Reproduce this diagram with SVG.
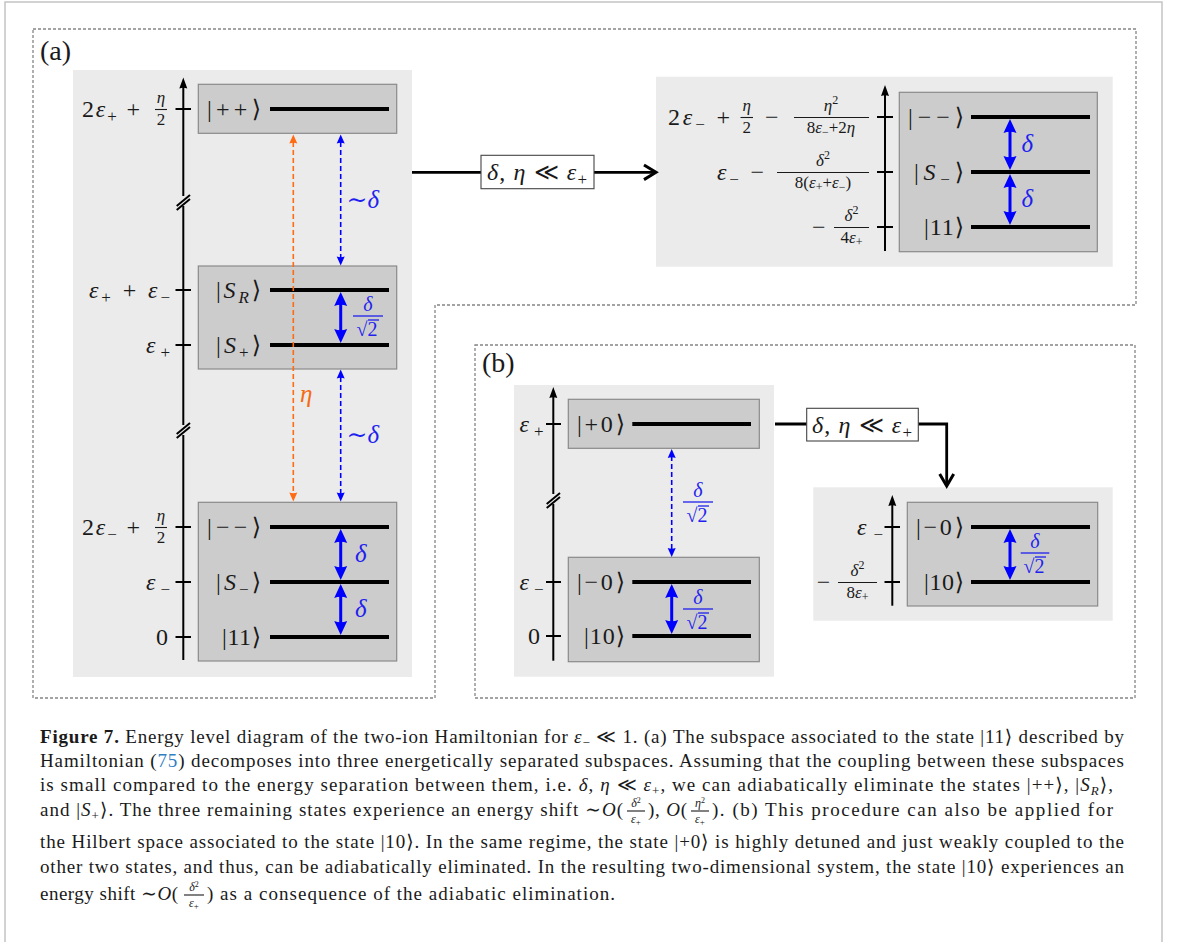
<svg xmlns="http://www.w3.org/2000/svg" xmlns:xlink="http://www.w3.org/1999/xlink" width="1179" height="942" viewBox="0 0 1179 942">
<style>
.m{font-family:"Liberation Serif","DejaVu Serif",serif;font-size:24px;fill:#1a1a1a}
.i{font-style:italic}
.sb{font-size:17px}
.f{font-size:17px}
.ss{font-size:12px}
.bl{fill:#1f1fef}
.or{fill:#f56a10}
.fb{stroke:#1a1a1a;stroke-width:1.1}
.fbb{stroke:#1f1fef;stroke-width:1.3}
.bg{fill:#ebebeb}
.box{fill:#cccccc;stroke:#8a8a8a;stroke-width:1.2}
.lvl{stroke:#000;stroke-width:4}
.ax{stroke:#000;stroke-width:2;fill:none}
.tk{stroke:#000;stroke-width:2}
.dash{fill:none;stroke:#858585;stroke-width:1.3;stroke-dasharray:3 2}
.sarr{stroke:#0000ff;stroke-width:3}
.darr{stroke:#0000ff;stroke-width:1.6;stroke-dasharray:5 3}
.oarr{stroke:#ff6a13;stroke-width:1.6;stroke-dasharray:5 3}
.con{fill:none;stroke:#000;stroke-width:2.8}
.chev{fill:none;stroke:#000;stroke-width:3}
.lbox{fill:#fff;stroke:#444;stroke-width:1.1}
.cap{font-family:"Liberation Serif","DejaVu Serif",serif;font-size:19px;fill:#1a1a1a}
.cs{font-size:13px}
.cf{font-size:12px}
</style>
<defs>
<path id="ah" d="M0,0 L4,11 Q0,9.5 -4,11 Z" fill="#000"/>
<path id="bh" d="M0,0 L6.5,14 Q0,11.5 -6.5,14 Z" fill="#0000ff"/>
<path id="dh" d="M0,0 L4,9 Q0,7.5 -4,9 Z" fill="#0000ff"/>
<path id="oh" d="M0,0 L4,9 Q0,7.5 -4,9 Z" fill="#ff6a13"/>
</defs>

<!-- outer frame -->
<path d="M5,942 V2 H1162 V942" fill="none" stroke="#c4c4c4" stroke-width="1.5"/>

<!-- panel borders -->
<path class="dash" d="M33,29 H1136 V305 H435 V698 H33 Z"/>
<rect class="dash" x="475" y="345" width="660" height="353"/>
<text class="m" x="40" y="60" style="font-size:28px">(a)</text>
<text class="m" x="482" y="372" style="font-size:28px">(b)</text>

<!-- Panel (a) left -->
<g id="a-left">
<rect class="bg" x="73" y="70" width="339" height="607"/>
<line class="ax" x1="183.3" y1="86" x2="183.3" y2="196"/>
<line class="ax" x1="183.3" y1="206" x2="183.3" y2="425"/>
<line class="ax" x1="183.3" y1="435" x2="183.3" y2="660"/>
<use xlink:href="#ah" x="183.3" y="77.5"/>
<line class="tk" x1="176.7" y1="206" x2="190" y2="195"/>
<line class="tk" x1="176.7" y1="210" x2="190" y2="199"/>
<line class="tk" x1="176.7" y1="434" x2="190" y2="423"/>
<line class="tk" x1="176.7" y1="438" x2="190" y2="427"/>
<line class="tk" x1="175.5" y1="109" x2="191" y2="109"/>
<line class="tk" x1="175.5" y1="290" x2="191" y2="290"/>
<line class="tk" x1="175.5" y1="345" x2="191" y2="345"/>
<line class="tk" x1="175.5" y1="527" x2="191" y2="527"/>
<line class="tk" x1="175.5" y1="582" x2="191" y2="582"/>
<line class="tk" x1="175.5" y1="637" x2="191" y2="637"/>
<text class="m" x="82" y="117" textLength="58" lengthAdjust="spacing">2<tspan class="i">ε</tspan><tspan class="sb" dy="5">+</tspan><tspan dy="-5"> +</tspan></text>
<text class="m f i" x="161" y="103" text-anchor="middle">η</text>
<line class="fb" x1="155" y1="109.5" x2="167" y2="109.5"/>
<text class="m f" x="161" y="125" text-anchor="middle">2</text>
<text class="m" x="89" y="298" textLength="81" lengthAdjust="spacing"><tspan class="i">ε</tspan><tspan class="sb" dy="5">+</tspan><tspan dy="-5"> + </tspan><tspan class="i">ε</tspan><tspan class="sb" dy="5">−</tspan></text>
<text class="m" x="146" y="353" textLength="24" lengthAdjust="spacing"><tspan class="i">ε</tspan><tspan class="sb" dy="5">+</tspan></text>
<text class="m" x="82" y="535" textLength="58" lengthAdjust="spacing">2<tspan class="i">ε</tspan><tspan class="sb" dy="5">−</tspan><tspan dy="-5"> +</tspan></text>
<text class="m f i" x="161" y="521" text-anchor="middle">η</text>
<line class="fb" x1="155" y1="527.5" x2="167" y2="527.5"/>
<text class="m f" x="161" y="543" text-anchor="middle">2</text>
<text class="m" x="146" y="590" textLength="24" lengthAdjust="spacing"><tspan class="i">ε</tspan><tspan class="sb" dy="5">−</tspan></text>
<text class="m" x="156" y="645">0</text>
</g>

<g id="box-pp">
<rect class="box" x="198.3" y="84.3" width="198.4" height="49"/>
<line class="lvl" x1="270" y1="109" x2="389" y2="109"/>
<text class="m" x="261" y="117" text-anchor="end" textLength="54" lengthAdjust="spacing">|++⟩</text>
</g>
<g id="box-sr">
<rect class="box" x="198.3" y="266" width="198.4" height="103"/>
<line class="lvl" x1="270" y1="290" x2="389" y2="290"/>
<line class="lvl" x1="270" y1="345" x2="389" y2="345"/>
<text class="m" x="261" y="298" text-anchor="end" textLength="45" lengthAdjust="spacing">|<tspan class="i">S</tspan><tspan class="sb i" dy="5">R</tspan><tspan dy="-5">⟩</tspan></text>
<text class="m" x="261" y="353" text-anchor="end" textLength="45" lengthAdjust="spacing">|<tspan class="i">S</tspan><tspan class="sb" dy="5">+</tspan><tspan dy="-5">⟩</tspan></text>
</g>
<g id="box-mm">
<rect class="box" x="198.3" y="502.3" width="198.4" height="158.7"/>
<line class="lvl" x1="270" y1="527" x2="389" y2="527"/>
<line class="lvl" x1="270" y1="582" x2="389" y2="582"/>
<line class="lvl" x1="270" y1="637" x2="389" y2="637"/>
<text class="m" x="261" y="535" text-anchor="end" textLength="54" lengthAdjust="spacing">|−−⟩</text>
<text class="m" x="261" y="590" text-anchor="end" textLength="45" lengthAdjust="spacing">|<tspan class="i">S</tspan><tspan class="sb" dy="5">−</tspan><tspan dy="-5">⟩</tspan></text>
<text class="m" x="261" y="645" text-anchor="end" textLength="39" lengthAdjust="spacing">|11⟩</text>
</g>

<!-- Panel (a) right -->
<g id="a-right">
<rect class="bg" x="656" y="76.7" width="456.7" height="190"/>
<line class="ax" x1="885" y1="93" x2="885" y2="251"/>
<use xlink:href="#ah" x="885" y="85"/>
<line class="tk" x1="877" y1="117" x2="893" y2="117"/>
<line class="tk" x1="877" y1="172" x2="893" y2="172"/>
<line class="tk" x1="877" y1="227" x2="893" y2="227"/>
<text class="m" x="668" y="125" textLength="62" lengthAdjust="spacing">2<tspan class="i">ε</tspan><tspan class="sb" dy="5">−</tspan><tspan dy="-5"> +</tspan></text>
<text class="m f i" x="746.7" y="111" text-anchor="middle">η</text>
<line class="fb" x1="740.5" y1="117.5" x2="753" y2="117.5"/>
<text class="m f" x="746.7" y="133" text-anchor="middle">2</text>
<text class="m" x="765" y="125">−</text>
<text class="m f" x="831" y="111" text-anchor="middle"><tspan class="i">η</tspan><tspan class="ss" dy="-7">2</tspan></text>
<line class="fb" x1="794" y1="117.5" x2="869" y2="117.5"/>
<text class="m f" x="831" y="133" text-anchor="middle">8<tspan class="i">ε</tspan><tspan class="ss" dy="3">−</tspan><tspan dy="-3">+2</tspan><tspan class="i">η</tspan></text>
<text class="m" x="717" y="180" textLength="47" lengthAdjust="spacing"><tspan class="i">ε</tspan><tspan class="sb" dy="5">−</tspan><tspan dy="-5"> −</tspan></text>
<text class="m f" x="823" y="166" text-anchor="middle"><tspan class="i">δ</tspan><tspan class="ss" dy="-7">2</tspan></text>
<line class="fb" x1="777" y1="172.5" x2="869" y2="172.5"/>
<text class="m f" x="823" y="188" text-anchor="middle">8(<tspan class="i">ε</tspan><tspan class="ss" dy="3">+</tspan><tspan dy="-3">+</tspan><tspan class="i">ε</tspan><tspan class="ss" dy="3">−</tspan><tspan dy="-3">)</tspan></text>
<text class="m" x="812" y="235">−</text>
<text class="m f" x="851.5" y="221" text-anchor="middle"><tspan class="i">δ</tspan><tspan class="ss" dy="-7">2</tspan></text>
<line class="fb" x1="834" y1="227.5" x2="869" y2="227.5"/>
<text class="m f" x="851.5" y="243" text-anchor="middle">4<tspan class="i">ε</tspan><tspan class="ss" dy="3">+</tspan></text>
</g>
<g id="box-right-a">
<rect class="box" x="899.3" y="92.3" width="198" height="159.4"/>
<line class="lvl" x1="971" y1="117" x2="1090" y2="117"/>
<line class="lvl" x1="971" y1="172" x2="1090" y2="172"/>
<line class="lvl" x1="971" y1="227" x2="1090" y2="227"/>
<text class="m" x="964" y="125" text-anchor="end" textLength="56" lengthAdjust="spacing">|−−⟩</text>
<text class="m" x="964" y="180" text-anchor="end" textLength="50" lengthAdjust="spacing">|<tspan class="i">S</tspan><tspan class="sb" dy="5">−</tspan><tspan dy="-5">⟩</tspan></text>
<text class="m" x="964" y="235" text-anchor="end" textLength="40" lengthAdjust="spacing">|11⟩</text>
</g>

<!-- Panel (b) left -->
<g id="b-left">
<rect class="bg" x="514" y="385" width="260" height="291.7"/>
<line class="ax" x1="553.3" y1="395" x2="553.3" y2="494"/>
<line class="ax" x1="553.3" y1="504" x2="553.3" y2="660.7"/>
<use xlink:href="#ah" x="553.3" y="387"/>
<line class="tk" x1="546.7" y1="504" x2="560" y2="493"/>
<line class="tk" x1="546.7" y1="508" x2="560" y2="497"/>
<line class="tk" x1="546" y1="424" x2="561" y2="424"/>
<line class="tk" x1="546" y1="582" x2="561" y2="582"/>
<line class="tk" x1="546" y1="636" x2="561" y2="636"/>
<text class="m" x="519.5" y="432" textLength="24" lengthAdjust="spacing"><tspan class="i">ε</tspan><tspan class="sb" dy="5">+</tspan></text>
<text class="m" x="519.5" y="590" textLength="24" lengthAdjust="spacing"><tspan class="i">ε</tspan><tspan class="sb" dy="5">−</tspan></text>
<text class="m" x="528" y="644">0</text>
</g>
<g id="box-p0">
<rect class="box" x="568.3" y="399.3" width="191" height="49"/>
<line class="lvl" x1="632.3" y1="424" x2="751" y2="424"/>
<text class="m" x="625" y="432" text-anchor="end" textLength="48" lengthAdjust="spacing">|+0⟩</text>
</g>
<g id="box-m0">
<rect class="box" x="568.3" y="557.3" width="191" height="104.4"/>
<line class="lvl" x1="632.3" y1="582" x2="751" y2="582"/>
<line class="lvl" x1="632.3" y1="636" x2="751" y2="636"/>
<text class="m" x="625" y="590" text-anchor="end" textLength="48" lengthAdjust="spacing">|−0⟩</text>
<text class="m" x="625" y="644" text-anchor="end" textLength="41" lengthAdjust="spacing">|10⟩</text>
</g>

<!-- Panel (b) right -->
<g id="b-right">
<rect class="bg" x="813.3" y="487.3" width="299.4" height="133.4"/>
<line class="ax" x1="892.3" y1="503" x2="892.3" y2="605.7"/>
<use xlink:href="#ah" x="892.3" y="495"/>
<line class="tk" x1="884.5" y1="527" x2="900" y2="527"/>
<line class="tk" x1="884.5" y1="582" x2="900" y2="582"/>
<text class="m" x="857" y="535" textLength="26" lengthAdjust="spacing"><tspan class="i">ε</tspan><tspan class="sb" dy="5">−</tspan></text>
<text class="m" x="816.7" y="590">−</text>
<text class="m f" x="857.5" y="576" text-anchor="middle"><tspan class="i">δ</tspan><tspan class="ss" dy="-7">2</tspan></text>
<line class="fb" x1="838" y1="582.5" x2="877" y2="582.5"/>
<text class="m f" x="857.5" y="598" text-anchor="middle">8<tspan class="i">ε</tspan><tspan class="ss" dy="3">+</tspan></text>
</g>
<g id="box-right-b">
<rect class="box" x="907.3" y="502.3" width="190.4" height="103.7"/>
<line class="lvl" x1="971" y1="527" x2="1090" y2="527"/>
<line class="lvl" x1="971" y1="582" x2="1090" y2="582"/>
<text class="m" x="964" y="535" text-anchor="end" textLength="48" lengthAdjust="spacing">|−0⟩</text>
<text class="m" x="964" y="590" text-anchor="end" textLength="40" lengthAdjust="spacing">|10⟩</text>
</g>

<!-- connectors -->
<g id="connectors">
<line class="con" x1="412" y1="172.3" x2="655" y2="172.3"/>
<polyline class="chev" points="644,165 656,172.3 644,179.6"/>
<g id="label-a">
<rect class="lbox" x="481" y="155.3" width="113" height="33.4"/>
<text class="m" x="487" y="180" textLength="100" lengthAdjust="spacing"><tspan class="i">δ</tspan>, <tspan class="i">η</tspan> ≪ <tspan class="i">ε</tspan><tspan class="sb" dy="5">+</tspan></text>
</g>
<path class="con" d="M775,424 H946.7 V484"/>
<polyline class="chev" points="939.7,474 946.7,486 953.7,474"/>
<g id="label-b">
<rect class="lbox" x="806.7" y="408.3" width="111.6" height="32.7"/>
<text class="m" x="812" y="432.5" textLength="100" lengthAdjust="spacing"><tspan class="i">δ</tspan>, <tspan class="i">η</tspan> ≪ <tspan class="i">ε</tspan><tspan class="sb" dy="5">+</tspan></text>
</g>

<line class="oarr" x1="293.3" y1="142" x2="293.3" y2="494"/>
<use xlink:href="#oh" x="293.3" y="134.5"/>
<use xlink:href="#oh" transform="translate(293.3,501.5) rotate(180)"/>
<text class="m or i" x="300" y="402" style="font-size:25px">η</text>

<line class="darr" x1="340.7" y1="142" x2="340.7" y2="258"/>
<use xlink:href="#dh" x="340.7" y="134.5"/>
<use xlink:href="#dh" transform="translate(340.7,265.5) rotate(180)"/>
<text class="m bl" x="346.5" y="208" style="font-size:25px">∼<tspan class="i">δ</tspan></text>
<line class="darr" x1="340.7" y1="377" x2="340.7" y2="494"/>
<use xlink:href="#dh" x="340.7" y="369.5"/>
<use xlink:href="#dh" transform="translate(340.7,501.5) rotate(180)"/>
<text class="m bl" x="346.5" y="443" style="font-size:25px">∼<tspan class="i">δ</tspan></text>
<line class="darr" x1="671.7" y1="456" x2="671.7" y2="550"/>
<use xlink:href="#dh" x="671.7" y="449"/>
<use xlink:href="#dh" transform="translate(671.7,557) rotate(180)"/>

<line class="sarr" x1="340.7" y1="303" x2="340.7" y2="333"/>
<use xlink:href="#bh" x="340.7" y="292"/>
<use xlink:href="#bh" transform="translate(340.7,343) rotate(180)"/>
<line class="sarr" x1="340.7" y1="540" x2="340.7" y2="569"/>
<use xlink:href="#bh" x="340.7" y="529"/>
<use xlink:href="#bh" transform="translate(340.7,580) rotate(180)"/>
<line class="sarr" x1="340.7" y1="595" x2="340.7" y2="624"/>
<use xlink:href="#bh" x="340.7" y="584"/>
<use xlink:href="#bh" transform="translate(340.7,635) rotate(180)"/>
<line class="sarr" x1="1010" y1="130" x2="1010" y2="159"/>
<use xlink:href="#bh" x="1010" y="119"/>
<use xlink:href="#bh" transform="translate(1010,170) rotate(180)"/>
<line class="sarr" x1="1010" y1="185" x2="1010" y2="214"/>
<use xlink:href="#bh" x="1010" y="174"/>
<use xlink:href="#bh" transform="translate(1010,225) rotate(180)"/>
<line class="sarr" x1="671.7" y1="595" x2="671.7" y2="623"/>
<use xlink:href="#bh" x="671.7" y="584"/>
<use xlink:href="#bh" transform="translate(671.7,634) rotate(180)"/>
<line class="sarr" x1="1010" y1="540" x2="1010" y2="569"/>
<use xlink:href="#bh" x="1010" y="529"/>
<use xlink:href="#bh" transform="translate(1010,580) rotate(180)"/>

<text class="m bl i" x="355" y="562" style="font-size:25px">δ</text>
<text class="m bl i" x="355" y="617" style="font-size:25px">δ</text>
<text class="m bl i" x="1021.5" y="152" style="font-size:25px">δ</text>
<text class="m bl i" x="1021.5" y="207" style="font-size:25px">δ</text>

<text class="m bl i" x="368" y="311" text-anchor="middle" style="font-size:20px">δ</text>
<line class="fbb" x1="353" y1="316" x2="383" y2="316"/>
<text class="m bl" x="367" y="336" text-anchor="middle" style="font-size:20px">√2</text>
<line class="fbb" x1="368" y1="320" x2="379" y2="320"/>

<text class="m bl i" x="698" y="497" text-anchor="middle" style="font-size:20px">δ</text>
<line class="fbb" x1="683" y1="502" x2="713" y2="502"/>
<text class="m bl" x="697" y="522" text-anchor="middle" style="font-size:20px">√2</text>
<line class="fbb" x1="698" y1="506" x2="709" y2="506"/>

<text class="m bl i" x="698" y="604" text-anchor="middle" style="font-size:20px">δ</text>
<line class="fbb" x1="683" y1="609" x2="713" y2="609"/>
<text class="m bl" x="697" y="629" text-anchor="middle" style="font-size:20px">√2</text>
<line class="fbb" x1="698" y1="613" x2="709" y2="613"/>

<text class="m bl i" x="1035" y="548" text-anchor="middle" style="font-size:20px">δ</text>
<line class="fbb" x1="1020.7" y1="553" x2="1049.3" y2="553"/>
<text class="m bl" x="1034" y="573" text-anchor="middle" style="font-size:20px">√2</text>
<line class="fbb" x1="1035" y1="557" x2="1046" y2="557"/>
</g>

<g id="caption">
<text class="cap" x="40" y="743" textLength="1084" lengthAdjust="spacing"><tspan font-weight="bold">Figure 7.</tspan> Energy level diagram of the two-ion Hamiltonian for <tspan class="i">ε</tspan><tspan class="cs" dy="4">−</tspan><tspan dy="-4"> ≪ 1. (a) The subspace associated to the state |11⟩ described by</tspan></text>
<text class="cap" x="40" y="767" textLength="1084" lengthAdjust="spacing">Hamiltonian (<tspan fill="#2f7fc1">75</tspan>) decomposes into three energetically separated subspaces. Assuming that the coupling between these subspaces</text>
<text class="cap" x="40" y="791" textLength="1073" lengthAdjust="spacing">is small compared to the energy separation between them, i.e. <tspan class="i">δ</tspan>, <tspan class="i">η</tspan> ≪ <tspan class="i">ε</tspan><tspan class="cs" dy="4">+</tspan><tspan dy="-4">, we can adiabatically eliminate the states |++⟩, |</tspan><tspan class="i">S</tspan><tspan class="cs i" dy="4">R</tspan><tspan dy="-4">⟩,</tspan></text>
<text class="cap" x="40" y="816" textLength="583" lengthAdjust="spacing">and |<tspan class="i">S</tspan><tspan class="cs" dy="4">+</tspan><tspan dy="-4">⟩. The three remaining states experience an energy shift ∼</tspan><tspan class="i">O</tspan>(</text>
<text class="cap cf" x="636" y="807" text-anchor="middle"><tspan class="i">δ</tspan><tspan dy="-4" style="font-size:8px">2</tspan></text>
<line class="fb" x1="627" y1="811" x2="645" y2="811"/>
<text class="cap cf" x="636" y="823" text-anchor="middle"><tspan class="i">ε</tspan><tspan dy="2" style="font-size:9px">+</tspan></text>
<text class="cap" x="648" y="816" textLength="39" lengthAdjust="spacing">), <tspan class="i">O</tspan>(</text>
<text class="cap cf" x="700" y="807" text-anchor="middle"><tspan class="i">η</tspan><tspan dy="-4" style="font-size:8px">2</tspan></text>
<line class="fb" x1="691" y1="811" x2="709" y2="811"/>
<text class="cap cf" x="700" y="823" text-anchor="middle"><tspan class="i">ε</tspan><tspan dy="2" style="font-size:9px">+</tspan></text>
<text class="cap" x="712" y="816" textLength="401" lengthAdjust="spacing">). (b) This procedure can also be applied for</text>
<text class="cap" x="40" y="848" textLength="1084" lengthAdjust="spacing">the Hilbert space associated to the state |10⟩. In the same regime, the state |+0⟩ is highly detuned and just weakly coupled to the</text>
<text class="cap" x="40" y="873" textLength="1084" lengthAdjust="spacing">other two states, and thus, can be adiabatically eliminated. In the resulting two-dimensional system, the state |10⟩ experiences an</text>
<text class="cap" x="40" y="900" textLength="138" lengthAdjust="spacing">energy shift ∼<tspan class="i">O</tspan>(</text>
<text class="cap cf" x="194" y="891" text-anchor="middle"><tspan class="i">δ</tspan><tspan dy="-4" style="font-size:8px">2</tspan></text>
<line class="fb" x1="184" y1="895" x2="204" y2="895"/>
<text class="cap cf" x="194" y="907" text-anchor="middle"><tspan class="i">ε</tspan><tspan dy="2" style="font-size:9px">+</tspan></text>
<text class="cap" x="207" y="900" textLength="408" lengthAdjust="spacing">) as a consequence of the adiabatic elimination.</text>
</g>
</svg>
